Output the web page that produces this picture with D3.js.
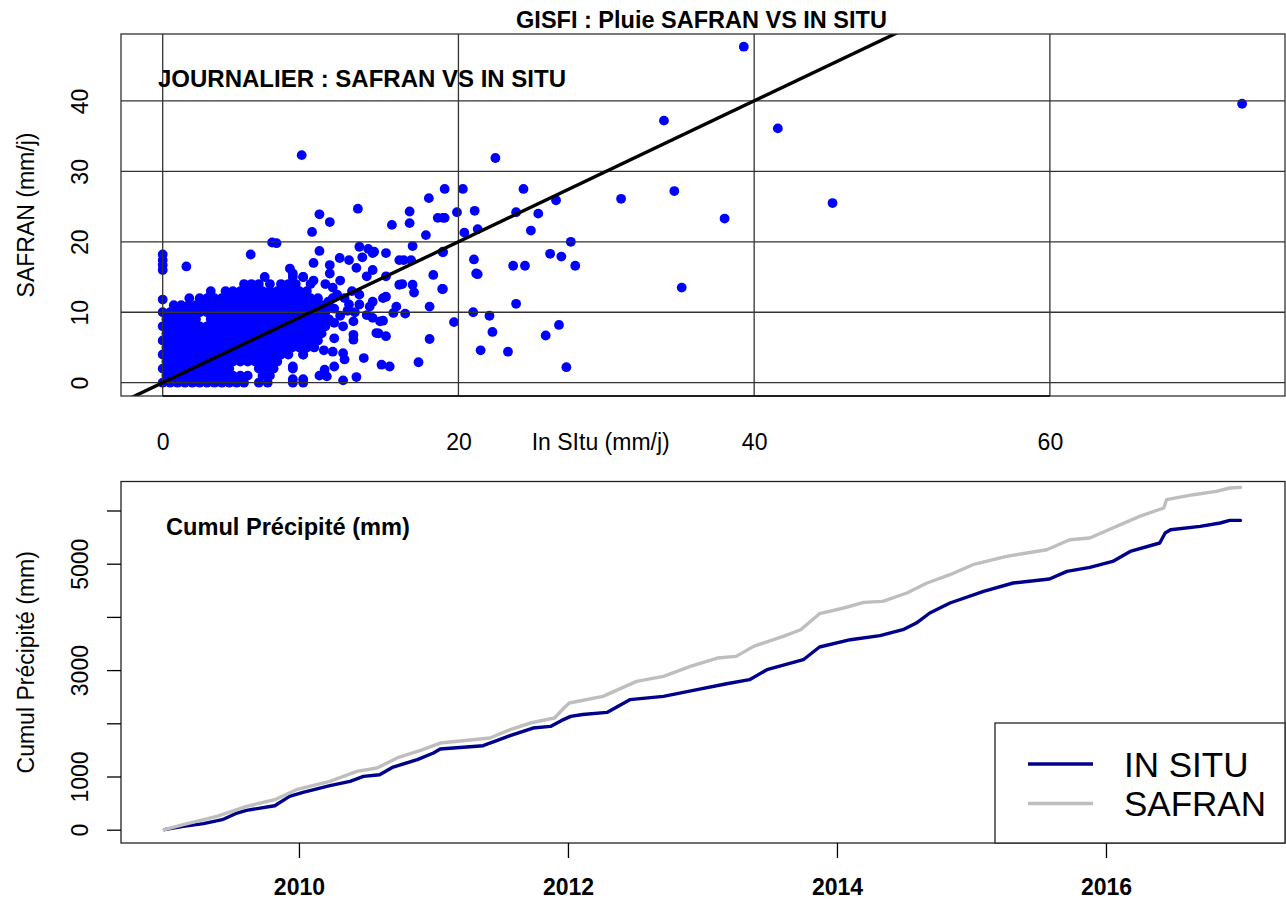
<!DOCTYPE html>
<html><head><meta charset="utf-8">
<script src="https://cdn.jsdelivr.net/npm/d3@7"></script>
<style>
body{margin:0;background:#fff}
svg{display:block}
text{font-family:"Liberation Sans",Arial,Helvetica,sans-serif;fill:#000}
</style>
</head><body>
<svg id="c" width="1286" height="899"></svg>
<script>
// ---------------- DATA ----------------
// Top panel : daily rainfall, In Situ (x) vs SAFRAN (y), mm/j
const mainTitle = "GISFI : Pluie SAFRAN VS IN SITU";
const scatterSubtitle = "JOURNALIER : SAFRAN VS IN SITU";
const scatterXLabel = "In SItu (mm/j)";
const scatterYLabel = "SAFRAN (mm/j)";
const scatterXDomain = [-2.82, 75.9];
const scatterYDomain = [-1.89, 49.5];
const scatterXTicks = [0, 20, 40, 60];
const scatterYTicks = [0, 10, 20, 30, 40];

// dense cluster near the origin, read row by row (SAFRAN value per row, In Situ values in that row)
const blobRowY = [0, 1, 2, 3, 4, 5, 6, 7, 8, 9, 10, 11, 12, 13, 14, 15];
const blobRowX = [
  [0,0.5,1,1.5,2,2.5,3,3.5,4,4.5,5,5.5,6.5,7.1,8.8,9.5],
  [0.25,0.75,1.25,1.75,2.25,2.75,3.25,3.75,4.25,4.75,5.25,5.75,6.75,7.25,10.6],
  [0,0.5,1,1.5,2,2.5,3,3.5,4,4.5,6.5,7,7.5,8.8],
  [0.25,0.75,1.25,1.75,2.25,2.75,3.25,3.75,4.25,4.75,5.25,5.75,6.25,6.75,7.25,7.75],
  [0,0.5,1,1.5,2,2.5,3,3.5,4,4.5,5,5.5,6,6.5,7,7.5,8,8.5,9.5],
  [0.25,0.75,1.25,1.75,2.25,2.75,3.25,3.75,4.25,4.75,5.25,5.75,6.25,6.75,7.25,7.75,8.25,8.75,9.25,9.75,10.25],
  [0,0.5,1,1.5,2,2.5,3,3.5,4,4.5,5,5.5,6,6.5,7,7.5,8,8.5,9,9.5,10,10.5],
  [0.25,0.75,1.25,1.75,2.25,2.75,3.25,3.75,4.25,4.75,5.25,5.75,6.25,6.75,7.25,7.75,8.25,8.75,9.25,9.75,10.25,10.75],
  [0,0.5,1,1.5,2,2.5,3,3.5,4,4.5,5,5.5,6,6.5,7,7.5,8,8.5,9,9.5,10,10.5,11],
  [0.25,0.75,1.25,1.75,2.25,3.25,3.75,4.25,4.75,5.25,5.75,6.25,6.75,7.25,7.75,8.25,8.75,9.25,9.75,10.25,10.75,11.25],
  [0,0.5,1,1.5,2,2.5,3,3.5,4,4.5,5,5.5,6,6.5,7,7.5,8,8.5,9,9.5,10,10.5,11],
  [0.75,1.25,1.75,2.25,2.75,3.25,3.75,4.25,4.75,5.25,5.75,6.25,6.75,7.25,7.75,8.25,8.75,9.25,9.75,10.25,10.75,11.25],
  [1.8,2.5,3,3.5,4,4.5,5,5.5,6,6.5,7,7.5,8,8.5,9,9.5,10,10.5,11.5],
  [3.25,4.25,4.75,5.25,5.75,6.25,6.75,7.25,7.75,8.25,8.75,9.25,9.75],
  [5.5,6,6.5,7.25,8,8.5,9,10],
  [6.9,8.8,9.5]
];

// scattered days (In Situ, SAFRAN)
const scatterPoints = [
  [0,11.8],[0,16.0],[0,16.7],[0,17.4],[0,18.2],
  [1.6,16.5],[5.95,18.2],[7.4,19.9],[7.7,19.8],[8.6,16.2],[10.2,17.0],[10.6,18.7],
  [10.1,21.4],[10.6,23.9],[11.3,22.8],[9.4,32.3],
  [13.2,24.7],[16.7,24.3],[18.0,26.2],[18.6,23.4],[19.07,23.4],[15.5,22.4],[16.7,22.65],
  [17.8,20.95],[13.3,19.3],[13.9,19.0],[14.3,18.6],[16.9,19.4],[18.95,18.6],[21.2,15.5],
  [11.97,17.7],[12.6,17.4],[13.5,17.8],[14.2,18.4],[15.1,18.4],[16.0,17.4],[16.8,17.4],[16.3,17.4],
  [11.3,16.7],[13.1,16.3],[14.2,16.0],[15.1,15.1],[13.8,15.1],
  [18.3,15.3],[18.9,13.3],[16.9,13.9],[17.0,12.8],[16.0,13.9],[16.2,14.0],[15.1,12.2],[14.2,11.5],
  [13.3,11.1],[12.6,11.1],[14.0,10.8],[13.3,12.5],[14.9,12.0],[18.05,10.8],[15.8,10.8],[16.4,9.8],
  [13.8,9.6],[14.2,9.2],[14.7,8.7],[15.6,9.9],[14.9,8.8],[14.6,7.0],[18.05,6.2],[17.3,2.9],
  [15.1,6.6],[14.45,7.05],[12.9,6.8],[12.9,6.1],[11.6,6.3],[11.5,4.4],[12.2,4.2],[12.3,3.3],
  [13.6,3.5],[14.8,2.55],[15.35,2.3],[11.6,2.3],[10.95,1.85],[13.1,0.8],[12.2,0.33],[11.1,0.9],
  [9.5,0.5],[8.8,0.5],[9.5,4.0],[8.8,2.3],[10.9,4.6],[11.6,8.5],[12.2,8.0],[12.9,8.7],[10.8,9.4],
  [11.5,13.5],[11.8,12.5],[12.3,12.0],[12.8,13.0],[11.3,15.5],[12.0,14.5],[11.0,14.0],
  [12.5,10.2],[13.0,10.0],[12.0,9.5],[11.2,11.5],[11.6,10.5],[10.2,14.5],[9.5,15.0],[8.8,15.5],
  [22.5,31.9],[19.07,27.5],[20.3,27.5],[24.4,27.5],[18.95,23.4],[19.9,24.2],[21.1,24.4],
  [23.9,24.2],[25.4,24.0],[26.6,25.9],[31.0,26.1],[20.4,21.3],[21.3,21.8],[24.9,21.6],
  [27.6,20.0],[18.95,18.5],[21.05,17.5],[26.2,18.3],[26.96,17.9],[27.9,16.6],[23.7,16.6],
  [24.5,16.6],[21.3,15.4],[18.95,13.3],[23.9,11.2],[21.0,10.0],[22.1,9.5],[19.7,8.6],
  [22.3,7.2],[26.8,8.2],[25.9,6.7],[21.5,4.6],[23.35,4.4],[27.3,2.2],
  [39.3,47.7],[33.9,37.2],[41.6,36.1],[34.6,27.2],[45.3,25.5],[38.0,23.3],[35.1,13.5],[73.0,39.6]
];
// 1:1 reference line endpoints (In Situ = SAFRAN)
const refLine = [[-5, -5], [55, 55]];

// Bottom panel : cumulated precipitation (mm)
const cumulSubtitle = "Cumul Précipité (mm)";
const cumulYLabel = "Cumul Précipité (mm)";
const cumulXDomain = [2008.677, 2017.331];
const cumulYDomain = [-250, 6545];
const cumulXTicks = [2010, 2012, 2014, 2016];
const cumulYTicks = [0, 1000, 2000, 3000, 4000, 5000, 6000];
const cumulYLabelled = [0, 1000, 3000, 5000];
const seriesNames = ["IN SITU", "SAFRAN"];
const seriesColors = ["#00008B", "#BEBEBE"];

const inSituYear = [2009.00,2009.14,2009.29,2009.43,2009.54,2009.61,2009.82,2009.93,2010.03,2010.23,2010.38,2010.48,2010.60,2010.70,2010.88,2011.00,2011.05,2011.37,2011.42,2011.57,2011.74,2011.87,2011.95,2012.02,2012.11,2012.29,2012.46,2012.71,2012.96,2013.18,2013.35,2013.48,2013.75,2013.87,2014.10,2014.32,2014.49,2014.59,2014.69,2014.84,2015.09,2015.31,2015.58,2015.71,2015.88,2016.05,2016.18,2016.40,2016.44,2016.48,2016.70,2016.85,2016.92,2017.00];
const inSituCumul = [0,62,113,188,313,363,451,626,701,827,908,1002,1034,1178,1316,1441,1517,1579,1629,1767,1911,1942,2050,2130,2165,2205,2444,2506,2632,2744,2820,3008,3195,3434,3571,3647,3759,3884,4073,4261,4480,4637,4712,4855,4930,5043,5231,5389,5577,5639,5701,5765,5814,5814];

const safranYear = [2009.00,2009.14,2009.39,2009.61,2009.82,2009.98,2010.23,2010.43,2010.58,2010.73,2010.92,2011.05,2011.42,2011.57,2011.72,2011.90,2011.97,2012.01,2012.26,2012.51,2012.71,2012.91,2013.11,2013.25,2013.38,2013.60,2013.73,2013.87,2014.05,2014.20,2014.34,2014.52,2014.67,2014.84,2015.01,2015.26,2015.56,2015.73,2015.88,2016.05,2016.25,2016.43,2016.45,2016.65,2016.82,2016.92,2017.00];
const safranCumul = [0,94,250,438,564,752,908,1096,1160,1348,1504,1629,1724,1880,2005,2100,2288,2381,2506,2788,2882,3070,3227,3258,3446,3634,3759,4060,4167,4273,4292,4449,4637,4793,4981,5137,5263,5451,5483,5671,5890,6047,6203,6297,6360,6423,6434];

// ---------------- DRAW ----------------
const W = 1286, H = 899, FS = 23, FSB = 24;
const svg = d3.select("#c");
svg.append("rect").attr("width", W).attr("height", H).attr("fill", "#fff");

// ===== Top panel =====
const P1 = {l: 121, r: 1285, t: 34, b: 396};
const x1 = d3.scaleLinear().domain(scatterXDomain).range([P1.l, P1.r]);
const y1 = d3.scaleLinear().domain(scatterYDomain).range([P1.b, P1.t]);

svg.append("clipPath").attr("id", "clip1").append("rect")
  .attr("x", P1.l).attr("y", P1.t).attr("width", P1.r - P1.l).attr("height", P1.b - P1.t);

const g1 = svg.append("g").attr("clip-path", "url(#clip1)");

const pts = [];
blobRowY.forEach((yy, i) => blobRowX[i].forEach(xx => pts.push([xx, yy])));
scatterPoints.forEach(p => pts.push(p));

g1.append("g").selectAll("circle").data(pts).join("circle")
  .attr("cx", d => x1(d[0])).attr("cy", d => y1(d[1])).attr("r", 4.9)
  .attr("fill", "#0000FF");

// grid (abline style)
g1.append("g").selectAll("line.v").data(scatterXTicks).join("line")
  .attr("x1", d => x1(d)).attr("x2", d => x1(d)).attr("y1", P1.t).attr("y2", P1.b)
  .attr("stroke", "#333").attr("stroke-width", 1.3);
g1.append("g").selectAll("line.h").data(scatterYTicks).join("line")
  .attr("x1", P1.l).attr("x2", P1.r).attr("y1", d => y1(d)).attr("y2", d => y1(d))
  .attr("stroke", "#333").attr("stroke-width", 1.3);

// 1:1 line
g1.append("path").datum(refLine)
  .attr("d", d3.line().x(d => x1(d[0])).y(d => y1(d[1])))
  .attr("stroke", "#000").attr("stroke-width", 3.4).attr("fill", "none");

// box
svg.append("rect").attr("x", P1.l).attr("y", P1.t).attr("width", P1.r - P1.l).attr("height", P1.b - P1.t)
  .attr("fill", "none").attr("stroke", "#333").attr("stroke-width", 1.3);

// x axis (labels only)
const ax1 = svg.append("g").attr("transform", `translate(0,${P1.b})`)
  .call(d3.axisBottom(x1).tickValues(scatterXTicks).tickSize(0).tickPadding(37.7).tickFormat(d3.format("d")));
ax1.select(".domain").attr("d", `M${x1(scatterXTicks[0])},0H${x1(scatterXTicks[scatterXTicks.length-1])}`)
  .attr("stroke", "#000").attr("stroke-width", 1.6);
ax1.selectAll("text").attr("font-size", FS).attr("font-family", null);

// y axis (rotated labels, no ticks)
const ay1 = svg.append("g").attr("transform", `translate(${P1.l},0)`)
  .call(d3.axisLeft(y1).tickValues(scatterYTicks).tickSize(0).tickFormat(d3.format("d")));
ay1.select(".domain").remove();
ay1.selectAll("text").attr("x", 0).attr("dy", 0).attr("text-anchor", "middle")
  .attr("transform", "translate(-33,0) rotate(-90)").attr("font-size", FS).attr("font-family", null);

// titles
svg.append("text").attr("x", (516 + 887) / 2).attr("y", 28.3).attr("text-anchor", "middle")
  .attr("font-size", 23.5).attr("font-weight", "bold").text(mainTitle);
svg.append("text").attr("x", 158).attr("y", 87.3)
  .attr("font-size", FSB).attr("font-weight", "bold").text(scatterSubtitle);
svg.append("text").attr("x", 600.7).attr("y", 450).attr("text-anchor", "middle")
  .attr("font-size", FS).text(scatterXLabel);
svg.append("text").attr("transform", `translate(33.5,${(P1.t + P1.b) / 2}) rotate(-90)`)
  .attr("text-anchor", "middle").attr("font-size", FS).text(scatterYLabel);

// ===== Bottom panel =====
const P2 = {l: 121, r: 1285, t: 481.5, b: 843};
const x2 = d3.scaleLinear().domain(cumulXDomain).range([P2.l, P2.r]);
const y2 = d3.scaleLinear().domain(cumulYDomain).range([P2.b, P2.t]);

svg.append("clipPath").attr("id", "clip2").append("rect")
  .attr("x", P2.l).attr("y", P2.t).attr("width", P2.r - P2.l).attr("height", P2.b - P2.t);
const g2 = svg.append("g").attr("clip-path", "url(#clip2)");

const series = [
  inSituYear.map((t, i) => [t, inSituCumul[i]]),
  safranYear.map((t, i) => [t, safranCumul[i]])
];
const line2 = d3.line().x(d => x2(d[0])).y(d => y2(d[1]));
series.forEach((s, i) => {
  g2.append("path").datum(s).attr("d", line2).attr("fill", "none")
    .attr("stroke", seriesColors[i]).attr("stroke-width", 3.4)
    .attr("stroke-linejoin", "round").attr("stroke-linecap", "round");
});

svg.append("rect").attr("x", P2.l).attr("y", P2.t).attr("width", P2.r - P2.l).attr("height", P2.b - P2.t)
  .attr("fill", "none").attr("stroke", "#222").attr("stroke-width", 1.3);

// x axis
const ax2 = svg.append("g").attr("transform", `translate(0,${P2.b})`)
  .call(d3.axisBottom(x2).tickValues(cumulXTicks).tickSize(15).tickPadding(20.7).tickFormat(d3.format("d")));
ax2.select(".domain").remove();
ax2.selectAll("line").attr("stroke", "#000").attr("stroke-width", 1.3);
ax2.selectAll("text").attr("font-size", FS).attr("font-weight", "bold").attr("font-family", null);

// y axis
const ay2 = svg.append("g").attr("transform", `translate(${P2.l},0)`)
  .call(d3.axisLeft(y2).tickValues(cumulYTicks).tickSize(14)
    .tickFormat(d => cumulYLabelled.includes(d) ? String(d) : ""));
ay2.select(".domain").remove();
ay2.selectAll("line").attr("stroke", "#000").attr("stroke-width", 1.3);
ay2.selectAll("text").attr("x", 0).attr("dy", 0).attr("text-anchor", "middle")
  .attr("transform", "translate(-33,0) rotate(-90)").attr("font-size", FS).attr("font-family", null);

svg.append("text").attr("x", 166).attr("y", 535)
  .attr("font-size", 23.6).attr("font-weight", "bold").text(cumulSubtitle);
svg.append("text").attr("transform", `translate(33.5,${(P2.t + P2.b) / 2}) rotate(-90)`)
  .attr("text-anchor", "middle").attr("font-size", FS).text(cumulYLabel);

// legend
const lg = svg.append("g");
lg.append("rect").attr("x", 995).attr("y", 723).attr("width", P2.r - 995).attr("height", P2.b - 723)
  .attr("fill", "#fff").attr("stroke", "#222").attr("stroke-width", 1.3);
seriesNames.forEach((n, i) => {
  const yy = 764 + i * 39.5;
  lg.append("line").attr("x1", 1028).attr("x2", 1093).attr("y1", yy).attr("y2", yy)
    .attr("stroke", seriesColors[i]).attr("stroke-width", 3.4);
  lg.append("text").attr("x", 1124).attr("y", yy + 12.5).attr("font-size", 35).text(n);
});
</script>
</body></html>
